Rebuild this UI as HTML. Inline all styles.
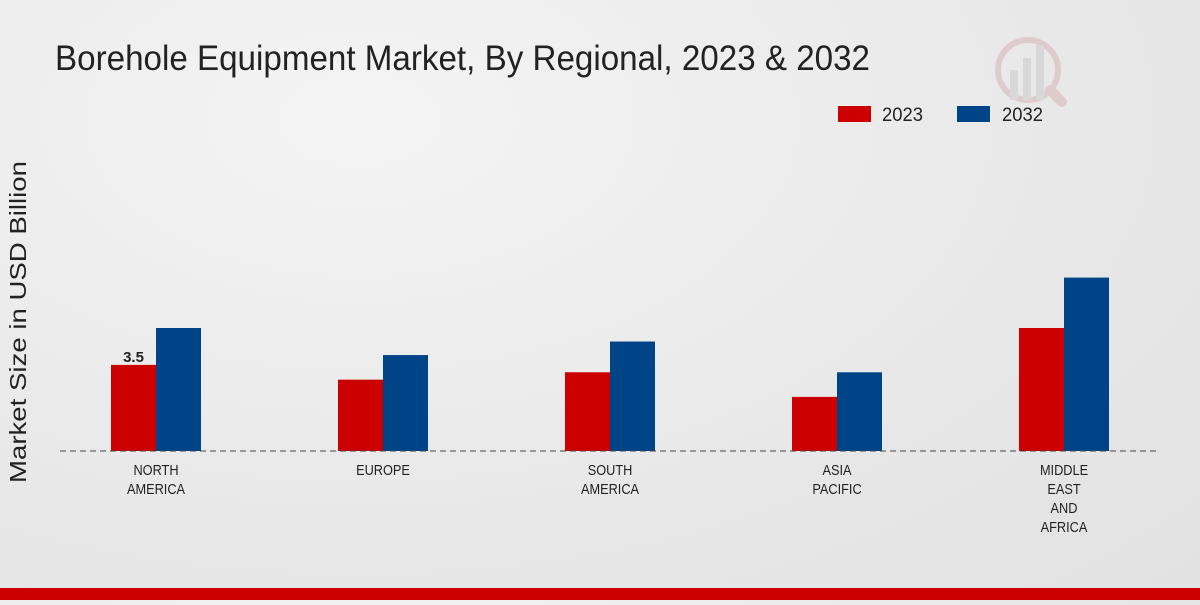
<!DOCTYPE html>
<html><head><meta charset="utf-8"><style>
body{margin:0;width:1200px;height:600px;overflow:hidden;background:radial-gradient(ellipse at 30% 20%,#f4f4f4,#e6e6e6 70%,#e2e2e2);font-family:"Liberation Sans",sans-serif;}
</style></head><body>
<svg width="1200" height="600" xmlns="http://www.w3.org/2000/svg">
<text x="55" y="70" font-size="35" fill="#222" textLength="815" lengthAdjust="spacingAndGlyphs">Borehole Equipment Market, By Regional, 2023 &amp; 2032</text>
<g opacity="0.35">
<circle cx="1028" cy="70" r="30" fill="none" stroke="#c99" stroke-width="6"/>
<rect x="1010" y="70" width="8" height="30" fill="#bbb"/><rect x="1023" y="58" width="8" height="42" fill="#bbb"/><rect x="1036" y="45" width="8" height="55" fill="#bbb"/>
<line x1="1050" y1="90" x2="1062" y2="102" stroke="#c99" stroke-width="10" stroke-linecap="round"/>
</g>
<g>
<rect x="838" y="106" width="33" height="16" fill="#cc0000"/>
<text x="882" y="121" font-size="19" textLength="41" lengthAdjust="spacingAndGlyphs" fill="#222">2023</text>
<rect x="957" y="106" width="33" height="16" fill="#004488"/>
<text x="1002" y="121" font-size="19" textLength="41" lengthAdjust="spacingAndGlyphs" fill="#222">2032</text>
</g>
<text transform="translate(26,322) rotate(-90)" text-anchor="middle" font-size="23" fill="#222" textLength="322" lengthAdjust="spacingAndGlyphs">Market Size in USD Billion</text>
<g id="bars"></g>
<line x1="60" y1="451" x2="1160" y2="451" stroke="#444" stroke-dasharray="6,4"/>
<g id="labels"></g>
<rect x="0" y="588" width="1200" height="12" fill="#cc0000"/>
</svg>
<script>
const categories=[["NORTH","AMERICA"],["EUROPE"],["SOUTH","AMERICA"],["ASIA","PACIFIC"],["MIDDLE","EAST","AND","AFRICA"]];
const values2023=[3.5,2.9,3.2,2.2,5.0];
const values2032=[5.0,3.9,4.45,3.2,7.05];
const ns="http://www.w3.org/2000/svg";
const base=451, scale=24.6, x0=156, step=227, bw=45;
const yOf=v=>base-v*scale;
const xOf=i=>x0+i*step;
const bars=document.getElementById('bars'), labels=document.getElementById('labels');
function bar(x,v,c,name){
 const r=document.createElementNS(ns,'rect');
 r.setAttribute('x',x);r.setAttribute('y',yOf(v));r.setAttribute('width',bw);r.setAttribute('height',base-yOf(v));r.setAttribute('fill',c);
 
 
 bars.appendChild(r);
}
categories.forEach((c,i)=>{
 bar(xOf(i)-bw,values2023[i],'#cc0000','bar-2023-'+i);
 bar(xOf(i),values2032[i],'#004488','bar-2032-'+i);
 c.forEach((line,j)=>{
  const t=document.createElementNS(ns,'text');
  t.setAttribute('x',0);t.setAttribute('y',0);t.setAttribute('text-anchor','middle');
  t.setAttribute('transform','translate('+xOf(i)+','+(475+j*19)+') scale(0.85,1)');
  t.setAttribute('font-size','15');t.setAttribute('fill','#222');
  t.textContent=line;
  
  
  labels.appendChild(t);
 });
});
const vl=document.createElementNS(ns,'text');
vl.setAttribute('x',xOf(0)-bw/2);vl.setAttribute('y',yOf(values2023[0])-3);vl.setAttribute('text-anchor','middle');
vl.setAttribute('font-size','15');vl.setAttribute('font-weight','bold');vl.setAttribute('fill','#222');
vl.textContent=values2023[0];


labels.appendChild(vl);
</script>
</body></html>
